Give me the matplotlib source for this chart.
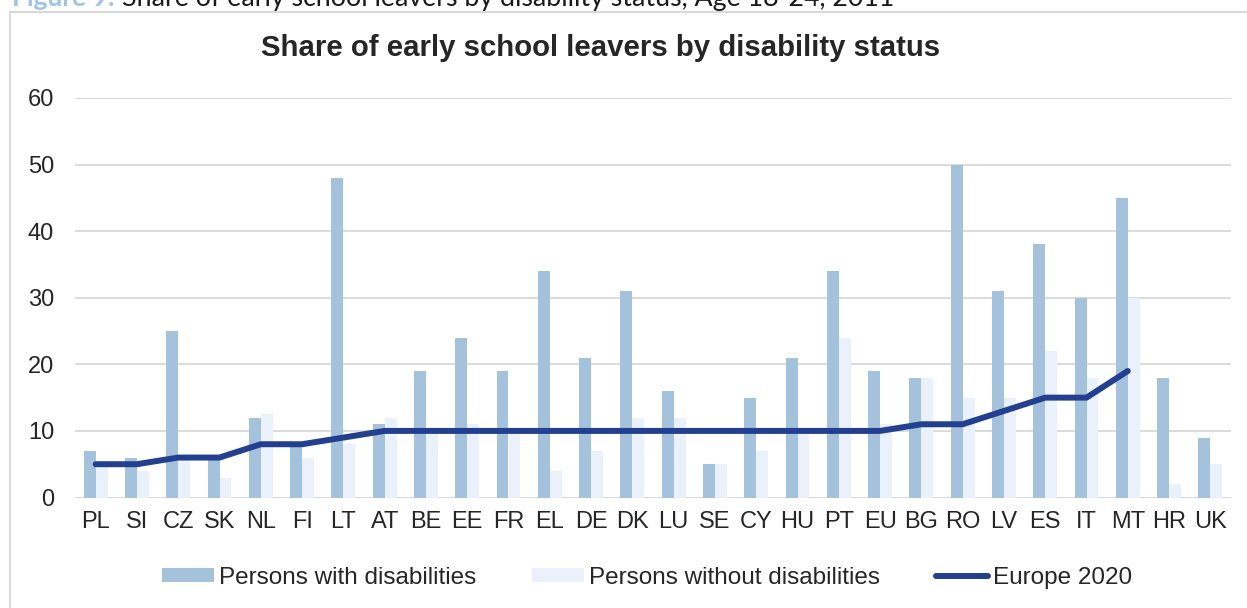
import numpy as np
import matplotlib.pyplot as plt
from matplotlib.patches import Rectangle

plt.rcParams['font.family'] = ['Liberation Sans', 'DejaVu Sans']

countries = ['PL', 'SI', 'CZ', 'SK', 'NL', 'FI', 'LT', 'AT', 'BE', 'EE', 'FR', 'EL', 'DE', 'DK',
             'LU', 'SE', 'CY', 'HU', 'PT', 'EU', 'BG', 'RO', 'LV', 'ES', 'IT', 'MT', 'HR', 'UK']
with_dis = [7, 6, 25, 6, 12, 8, 48, 11, 19, 24, 19, 34, 21, 31, 16, 5, 15, 21, 34, 19, 18, 50, 31, 38, 30, 45, 18, 9]
without_dis = [5, 4, 6, 3, 12.5, 6, 8, 12, 10, 11, 10, 4, 7, 12, 12, 5, 7, 10, 24, 11, 18, 15, 15, 22, 18, 30, 2, 5]
europe_2020 = [5, 5, 6, 6, 8, 8, 9, 10, 10, 10, 10, 10, 10, 10, 10, 10, 10, 10, 10, 10, 11, 11, 13, 15, 15, 19,
               np.nan, np.nan]

x = np.arange(len(countries))

fig = plt.figure(figsize=(12.47, 6.08), dpi=100)

# outer frame and clipped caption
fig.patches.append(Rectangle((10 / 1247, -0.05), 1.1, 1 - 12 / 608 + 0.05, transform=fig.transFigure,
                             fill=False, edgecolor='#D9D9D9', linewidth=1.5))
fig.text(12 / 1247, 1 - 6 / 608, 'Figure 9:', color='#9DC3E6', fontweight='bold', fontsize=19,
         family=['Lato', 'DejaVu Sans'], va='baseline')
fig.text(122 / 1247, 1 - 6 / 608, 'Share of early school leavers by disability status, Age 18-24, 2011',
         color='#1a1a1a', fontsize=19.3, family=['Lato', 'DejaVu Sans'], va='baseline')

ax = fig.add_axes([75 / 1247, 1 - 497.5 / 608, 1156 / 1247, 399.5 / 608])
w = 0.29
b1 = ax.bar(x - w / 2, with_dis, width=w, color='#A5C2DC', zorder=2)
b2 = ax.bar(x + w / 2, without_dis, width=w, color='#EAF1FA', zorder=2)
l1, = ax.plot(x, europe_2020, color='#233F8F', linewidth=4.3, solid_capstyle='round', zorder=3)

ax.set_xlim(-0.5, len(countries) - 0.5)
ax.set_ylim(0, 60)
ax.set_yticks(range(0, 61, 10))
ax.set_xticks(x)
ax.set_xticklabels(countries)
ax.tick_params(axis='both', length=0, labelsize=17, labelcolor='#262626')
ax.tick_params(axis='y', pad=15)
ax.tick_params(axis='x', pad=10)
ax.grid(axis='y', color='#D9D9D9', linewidth=1.3, zorder=0)
for s in ax.spines.values():
    s.set_visible(False)
ax.axhline(0, color='#D9D9D9', linewidth=1.3, zorder=1)

fig.text(601 / 1247, 1 - 48 / 608, 'Share of early school leavers by disability status', ha='center',
         va='center', fontsize=21.2, fontweight='bold', color='#262626')

fig.legend([b1, b2, l1], ['Persons with disabilities', 'Persons without disabilities', 'Europe 2020'],
           loc='center', bbox_to_anchor=(647 / 1247, 1 - 578 / 608), ncol=3, frameon=False, fontsize=17.5,
           handlelength=2.15, handleheight=0.5, handletextpad=0.2, columnspacing=2.3,
           labelcolor='#262626')

fig.savefig('out.png', dpi=100)
